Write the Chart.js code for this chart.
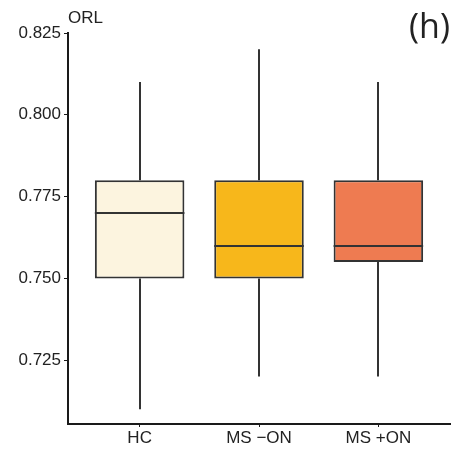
<!DOCTYPE html>
<html>
<head>
<meta charset="utf-8">
<script src="https://cdn.jsdelivr.net/npm/chart.js@4/dist/chart.umd.min.js"></script>
<style>
  html, body { margin: 0; padding: 0; background: #fff; }
  #wrap { width: 455px; height: 454px; position: relative; }
</style>
</head>
<body>
<div id="wrap"><canvas id="c"></canvas></div>
<script>
// Groups and their box-plot summaries (ORL)
const categories = ['HC', 'MS \u2212ON', 'MS +ON'];
const whiskerLow  = [0.710, 0.720, 0.720];
const q1          = [0.750, 0.750, 0.755];
const median      = [0.770, 0.760, 0.760];
const q3          = [0.780, 0.780, 0.780];
const whiskerHigh = [0.810, 0.820, 0.810];
const yTicks      = [0.725, 0.750, 0.775, 0.800, 0.825];
const fills       = ['#FCF4DF', '#F7B71B', '#EE7B51'];

const lineColor = '#333333';
const axisColor = '#1a1a1a';

// Whiskers, medians and panel text drawn on top of the floating bars
const boxExtras = {
  id: 'boxExtras',
  afterDatasetsDraw(chart) {
    const ctx = chart.ctx;
    const xs = chart.scales.x, ys = chart.scales.y;
    const meta = chart.getDatasetMeta(0);
    ctx.save();
    ctx.strokeStyle = lineColor;
    ctx.lineWidth = 2;
    categories.forEach((c, i) => {
      const x = Math.round(xs.getPixelForValue(i + 1));
      const bar = meta.data[i];
      const half = bar.width / 2;
      ctx.beginPath();
      ctx.moveTo(x, ys.getPixelForValue(q3[i]));
      ctx.lineTo(x, ys.getPixelForValue(whiskerHigh[i]));
      ctx.moveTo(x, ys.getPixelForValue(q1[i]));
      ctx.lineTo(x, ys.getPixelForValue(whiskerLow[i]));
      ctx.stroke();
      const my = Math.round(ys.getPixelForValue(median[i]));
      ctx.beginPath();
      ctx.moveTo(bar.x - half, my);
      ctx.lineTo(bar.x + half, my);
      ctx.stroke();
    });
    ctx.fillStyle = '#222';
    ctx.textBaseline = 'alphabetic';
    ctx.textAlign = 'left';
    ctx.font = '17px "Liberation Sans", Arial, sans-serif';
    ctx.fillText('ORL', 68, 23);
    ctx.font = '34px "Open Sans", sans-serif';
    ctx.textAlign = 'right';
    ctx.fillText('(h)', 450, 38);
    ctx.restore();
  }
};

new Chart(document.getElementById('c'), {
  type: 'bar',
  data: {
    datasets: [{
      data: categories.map((c, i) => ({ x: i + 1, y: [q1[i], q3[i]] })),
      backgroundColor: fills,
      borderColor: lineColor,
      borderWidth: 2,
      borderSkipped: false,
      barPercentage: 0.75,
      categoryPercentage: 1.0
    }]
  },
  options: {
    responsive: true,
    maintainAspectRatio: false,
    animation: false,
    layout: { padding: { top: 33, right: 5, left: 0, bottom: 0 } },
    plugins: { legend: { display: false }, tooltip: { enabled: false } },
    scales: {
      x: {
        type: 'linear',
        offset: false,
        min: 0.4,
        max: 3.6,
        afterBuildTicks(scale) {
          scale.ticks = categories.map((c, i) => ({ value: i + 1 }));
        },
        afterFit(scale) { scale.height = 30; },
        ticks: {
          callback: (v) => categories[v - 1],
          color: '#222',
          font: { family: '"Liberation Sans", Arial, sans-serif', size: 17 },
          padding: 1,
          maxRotation: 0,
          autoSkip: false
        },
        grid: { display: true, offset: false, drawOnChartArea: false, drawTicks: true, tickLength: 3, color: axisColor, lineWidth: 1 },
        border: { display: true, color: axisColor, width: 2 }
      },
      y: {
        min: 0.7055,
        max: 0.825,
        afterBuildTicks(scale) {
          scale.ticks = yTicks.map(v => ({ value: v }));
        },
        afterFit(scale) { scale.width = 68; },
        ticks: {
          callback: (v) => v.toFixed(3),
          color: '#222',
          font: { family: '"Liberation Sans", Arial, sans-serif', size: 17 },
          padding: 3
        },
        grid: { display: true, drawOnChartArea: false, drawTicks: true, tickLength: 4, color: axisColor, lineWidth: 1 },
        border: { display: true, color: axisColor, width: 2 }
      }
    }
  },
  plugins: [boxExtras]
});
</script>
</body>
</html>
